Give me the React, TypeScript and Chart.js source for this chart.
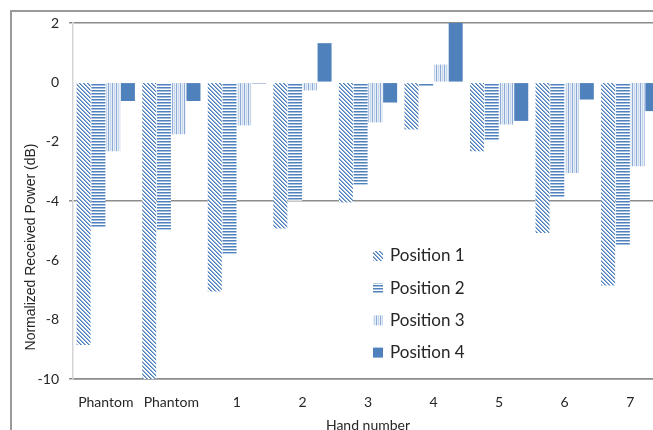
import { useEffect, useRef } from "react";
import { Chart, registerables } from "chart.js";

Chart.register(...registerables);

const categories = ["Phantom", "Phantom", "1", "2", "3", "4", "5", "6", "7"];
const position1 = [-8.85, -10, -7.05, -4.93, -4.05, -1.59, -2.32, -5.08, -6.85];
const position2 = [-4.9, -4.97, -5.78, -3.99, -3.45, -0.13, -1.98, -3.88, -5.52];
const position3 = [-2.32, -1.75, -1.45, -0.27, -1.35, 0.6, -1.42, -3.06, -2.83];
const position4 = [-0.63, -0.63, -0.04, 1.32, -0.68, 2.0, -1.3, -0.58, -0.97];
const seriesLabels = ["Position 1", "Position 2", "Position 3", "Position 4"];
const yTitle = "Normalized Received Power (dB)";
const xTitle = "Hand number";
const gridValues = [2, -4, -10];

const BLUE = "#4F81BD";

function makePattern(kind: number): CanvasPattern | string {
  if (kind === 3) return BLUE;
  const c = document.createElement("canvas");
  if (kind === 1) {
    c.width = 1;
    c.height = 3;
    const g2 = c.getContext("2d")!;
    g2.fillStyle = "#ffffff";
    g2.fillRect(0, 0, 1, 3);
    g2.fillStyle = BLUE;
    g2.fillRect(0, 0, 1, 1);
    g2.fillStyle = "#A7BFDE";
    g2.fillRect(0, 1, 1, 1);
    return g2.createPattern(c, "repeat")!;
  }
  const size = 4;
  c.width = size;
  c.height = size;
  const g = c.getContext("2d")!;
  g.fillStyle = "#ffffff";
  g.fillRect(0, 0, size, size);
  for (let x = 0; x < size; x++) {
    for (let y = 0; y < size; y++) {
      let col: string | null = null;
      if (kind === 0) {
        const d = (((x - y) % 4) + 4) % 4;
        if (d === 0) col = BLUE;
        else if (d === 1) col = "#8FADD6";
      } else if (kind === 2) {
        if (x === 0) col = "#8DA9D6";
        else if (x === 2) col = "#C5D5EA";
        else col = "#E6EEF7";
      }
      if (col) {
        g.fillStyle = col;
        g.fillRect(x, y, 1, 1);
      }
    }
  }
  return g.createPattern(c, "repeat")!;
}

export default function App() {
  const ref = useRef<HTMLCanvasElement>(null);

  useEffect(() => {
    const canvas = ref.current!;
    const fills = [0, 1, 2, 3].map((k) => makePattern(k));
    const series = [position1, position2, position3, position4];

    const framePlugin = {
      id: "frame",
      beforeDraw(chart: any) {
        const ctx = chart.ctx;
        ctx.save();
        ctx.fillStyle = "#ffffff";
        ctx.fillRect(0, 0, chart.width, chart.height);
        ctx.strokeStyle = "#9a9a9a";
        ctx.lineWidth = 2;
        ctx.strokeRect(11, 11, 2000, 2000);
        ctx.restore();
      },
      afterDraw(chart: any) {
        const ctx = chart.ctx;
        ctx.save();
        ctx.translate(31, 247);
        ctx.rotate(-Math.PI / 2);
        ctx.fillStyle = "#262626";
        ctx.font = "14px 'Liberation Sans'";
        ctx.textAlign = "center";
        ctx.textBaseline = "middle";
        ctx.fillText(yTitle, 0, 0);
        ctx.restore();
        ctx.save();
        ctx.font = "17px Lato";
        ctx.textBaseline = "middle";
        ctx.textAlign = "left";
        for (let i = 0; i < seriesLabels.length; i++) {
          const y = 256 + 32.2 * i;
          ctx.fillStyle = fills[i] as any;
          ctx.fillRect(373, y - 5, 10, 10);
          ctx.fillStyle = "#262626";
          ctx.fillText(seriesLabels[i], 390, y);
        }
        ctx.restore();
      },
    };

    const chart = new Chart(canvas, {
      type: "bar",
      data: {
        labels: categories,
        datasets: series.map((d, i) => ({
          label: seriesLabels[i],
          data: d,
          backgroundColor: fills[i] as any,
          borderWidth: 0,
          barPercentage: 0.95,
          categoryPercentage: 0.9,
        })),
      },
      options: {
        responsive: false,
        animation: false,
        devicePixelRatio: 1,
        layout: { padding: { top: 23, right: 17, left: 0, bottom: 0 } },
        plugins: {
          legend: { display: false },
          tooltip: { enabled: false },
        },
        scales: {
          x: {
            grid: { display: false, drawTicks: false },
            border: { display: true, color: "#8c8c8c", width: 1.5 },
            ticks: {
              color: "#262626",
              font: { family: "Lato", size: 14 },
              padding: 15,
              maxRotation: 0,
              autoSkip: false,
            },
            title: {
              display: true,
              text: xTitle,
              color: "#262626",
              font: { family: "Lato", size: 14 },
              padding: { top: 0, bottom: 6 },
            },
            afterFit(scale: any) {
              scale.height = 61;
            },
          },
          y: {
            min: -10,
            max: 2,
            ticks: {
              stepSize: 2,
              color: "#262626",
              font: { family: "Lato", size: 14 },
              padding: 10,
            },
            grid: {
              drawTicks: true,
              tickLength: 4,
              lineWidth: 1.5,
              color: (ctx: any) =>
                ctx.tick && gridValues.includes(ctx.tick.value) ? "#8c8c8c" : "rgba(0,0,0,0)",
            },
            border: { display: true, color: "#d4d4d4", width: 1.5 },
            afterFit(scale: any) {
              scale.width = 73;
            },
          },
        },
      },
      plugins: [framePlugin],
    });
    return () => chart.destroy();
  }, []);

  return (
    <div
      style={{
        position: "fixed",
        left: 0,
        top: 0,
        width: 653,
        height: 430,
        overflow: "hidden",
        background: "#fff",
      }}
    >
      <canvas ref={ref} width={680} height={440} style={{ width: 680, height: 440, display: "block" }} />
    </div>
  );
}
